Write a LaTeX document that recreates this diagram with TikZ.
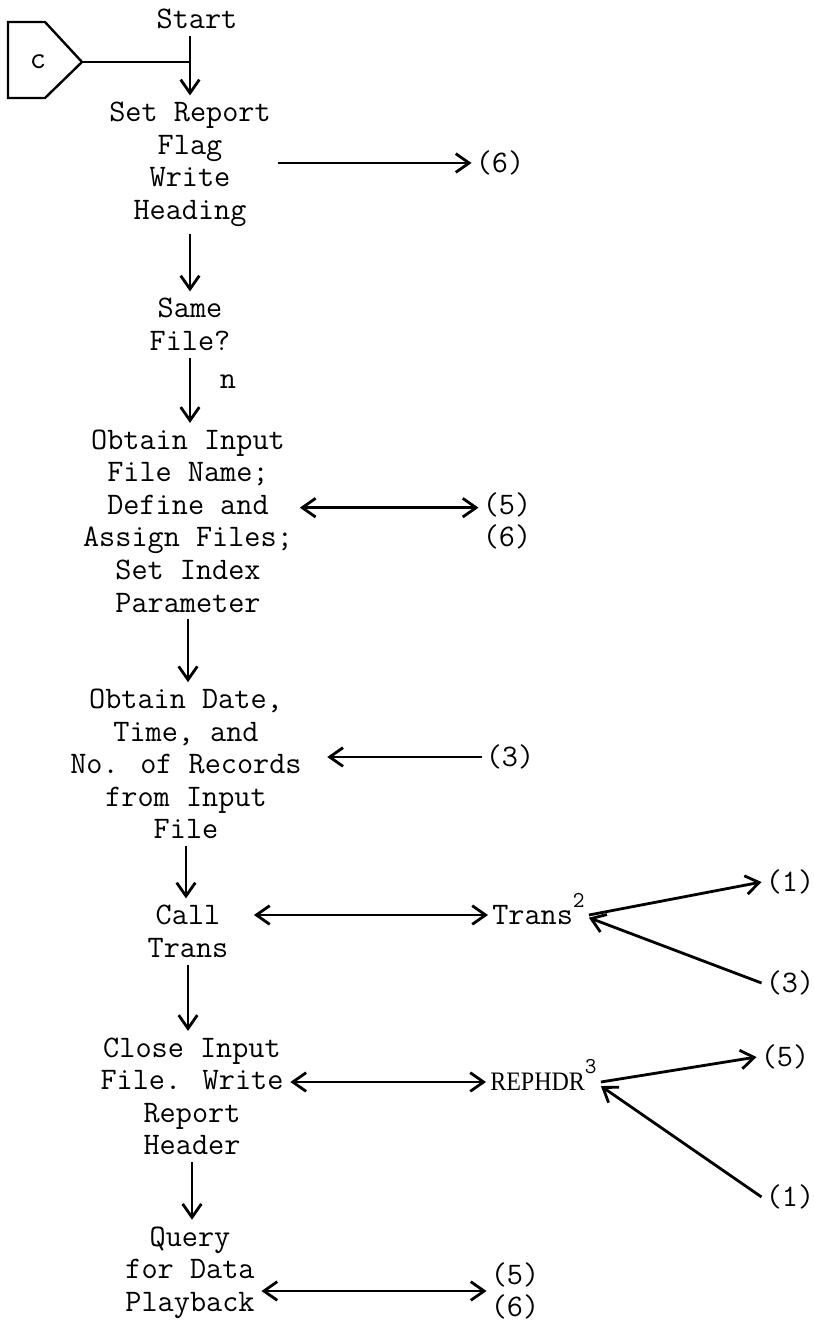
\documentclass[tikz,border=0pt]{standalone}
\usepackage{fontspec}
\usetikzlibrary{arrows.meta}
\newfontfamily\repfont{Liberation Serif}
\newcommand\flowfont{\ttfamily\fontsize{23.5}{24.4}\selectfont}
\newcommand\upnum[1]{\smash{\raisebox{0.55em}{\ttfamily\fontsize{17}{17}\selectfont #1}}}
\tikzset{
  txt/.style={font=\flowfont, align=center, inner sep=5pt},
  ref/.style={font=\flowfont, align=center, inner sep=3pt},
  ar/.style={-{Straight Barb[length=10pt,width=14pt]}, line width=2.1pt},
  dar/.style={{Straight Barb[length=10pt,width=14pt]}-{Straight Barb[length=10pt,width=14pt]}, line width=2.1pt},
  lnk/.style={line width=1.8pt}
}

\begin{document}
\begin{tikzpicture}[x=0.75pt,y=-0.75pt]
  \useasboundingbox (0,0) rectangle (814,1325);

  % off-page connector
  \draw[lnk] (8,22) -- (45,22) -- (82,62) -- (45,98) -- (8,98) -- cycle;
  \node[ref] (conn) at (38,62) {c};
  \coordinate (cpt) at (82,62);

  % main column
  \node[txt] (start) at (197,19) {Start};
  \node[txt] (report) at (190,164.5) {Set Report\\Flag\\Write\\Heading};
  \node[txt] (same) at (190,324.5) {Same\\File?};
  \node[txt] (obtain) at (188,521) {Obtain Input\\File Name;\\Define and\\Assign Files;\\Set Index\\Parameter};
  \node[txt] (date) at (186,764) {Obtain Date,\\Time, and\\No. of Records\\from Input\\File};
  \node[txt] (call) at (188,931.5) {Call\\Trans};
  \node[txt] (close) at (192,1096.5) {Close Input\\File. Write\\Report\\Header};
  \node[txt] (query) at (190,1272.5) {Query\\for Data\\Playback};
  \node[ref] (nlbl) at (228,382) {n};

  % right side
  \node[ref] (r6) at (500,163) {(6)};
  \node[ref] (r56a) at (507,521) {(5)\\(6)};
  \node[ref] (r3a) at (510,757) {(3)};
  \node[ref, anchor=west] (trans) at (488,915) {Trans\upnum{2}};
  \node[ref] (r1a) at (790,882) {(1)};
  \node[ref] (r3b) at (790,983) {(3)};
  \node[ref, anchor=west] (rephdr) at (486,1082) {\scalebox{0.9}[1]{\repfont\fontsize{20}{22}\selectfont REPHDR}\upnum{3}};
  \node[ref] (r5b) at (785,1057) {(5)};
  \node[ref] (r1b) at (790,1197) {(1)};
  \node[ref] (r56b) at (515,1291) {(5)\\(6)};

  % flow
  \draw[lnk] (cpt) -- (cpt -| report.north);
  \draw[ar] (report.north |- start.south) -- (report.north);
  \draw[ar] (report.south) -- (report.south |- same.north);
  \draw[ar] (same.south) -- (same.south |- obtain.north);
  \draw[ar] (obtain.south) -- (obtain.south |- date.north);
  \draw[ar] (date.south) -- (date.south |- call.north);
  \draw[ar] (call.south) -- (call.south |- close.north);
  \draw[ar] (close.south) -- (close.south |- query.north);

  % side links
  \draw[ar] (report.east |- r6.west) -- (r6.west);
  \draw[dar] ([yshift=10pt]obtain.east) -- ([yshift=10pt]r56a.west);
  \draw[ar, shorten >=14pt] (r3a.west) -- (r3a.west -| date.east);
  \draw[dar, shorten <=14pt] (call.east |- trans.west) -- (trans.west);
  \draw[ar] (trans.east) -- (r1a.west);
  \draw[ar] (r3b.west) -- ([yshift=-2pt]trans.east);
  \draw[dar] (close.east |- rephdr.west) -- (rephdr.west);
  \draw[ar] (rephdr.east) -- (r5b.west);
  \draw[ar] (r1b.west) -- ([yshift=-3pt]rephdr.east);
  \draw[dar] (query.east |- r56b.west) -- (r56b.west);
\end{tikzpicture}
\end{document}
